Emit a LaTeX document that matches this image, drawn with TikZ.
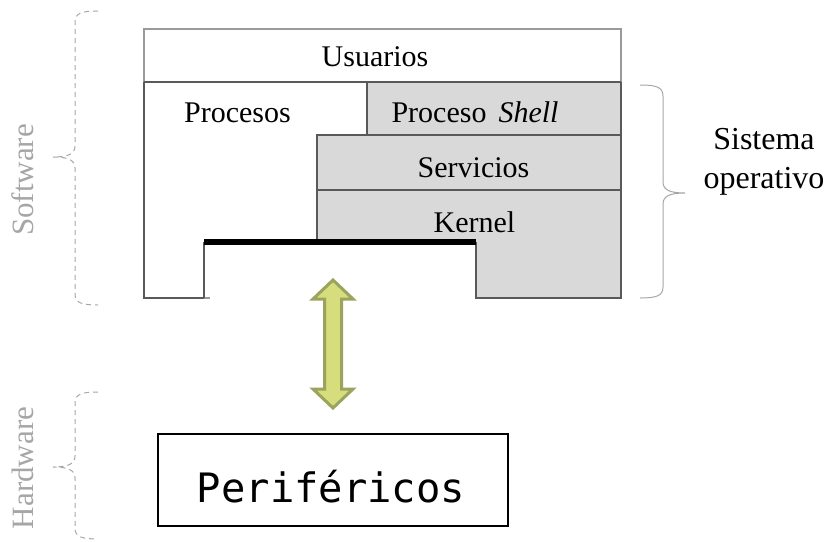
\documentclass[tikz,border=0pt]{standalone}
\usepackage{fontspec}
\usetikzlibrary{calc}
\setmainfont{Liberation Serif}
\newfontfamily\monofam{DejaVu Sans Mono}
\definecolor{layergray}{HTML}{D9D9D9}
\definecolor{edgegray}{HTML}{595959}
\definecolor{lightedge}{HTML}{9A9A9A}
\definecolor{bracegray}{HTML}{A6A6A6}
\definecolor{arrowfill}{HTML}{D6DD7C}
\definecolor{arrowedge}{HTML}{9CA35C}
\tikzset{
  layertext/.style={font=\fontsize{30}{36}\selectfont, inner sep=0pt, anchor=base},
  sidetext/.style={font=\fontsize{31}{36}\selectfont, text=bracegray, inner sep=0pt, anchor=base, rotate=90},
  edge/.style={draw=edgegray, line width=1.2pt},
  dashbrace/.style={draw=bracegray, line width=1pt, dash pattern=on 5pt off 4pt},
  solidbrace/.style={draw=bracegray, line width=1pt},
  devicebox/.style={draw=black, line width=2.7pt, minimum width=350pt, minimum height=92pt, inner sep=0pt},
  devicetext/.style={font=\monofam\fontsize{40.5}{48}\selectfont, inner sep=0pt, anchor=base},
  bus/.style={draw=black, line width=5.5pt}
}
\begin{document}
\begin{tikzpicture}[x=1pt, y=-1pt]
\useasboundingbox (0,0) rectangle (832,541);

% gray operating-system layers
\fill[layergray] (367,82) -- (621,82) -- (621,298) -- (476,298) -- (476,242)
  -- (317,242) -- (317,135) -- (367,135) -- cycle;

% user layer
\draw[draw=lightedge, line width=1.2pt] (144,82) -- (144,29) -- (621,29) -- (621,82);
\draw[edge] (144,82) -- (621,82);

% outline of the lower block
\draw[edge] (144,82) -- (144,298) -- (204,298);
\draw[draw=lightedge, line width=1.2pt] (204,298) -- (210,298);
\draw[edge] (204,298) -- (204,242);
\draw[edge] (476,242) -- (476,298) -- (621,298) -- (621,82);

% separators between layers
\draw[edge] (367,82) -- (367,135);
\draw[edge] (317,242) -- (317,135) -- (621,135);
\draw[edge] (317,190) -- (621,190);

% hardware interface line
\coordinate (busL) at (204,242);
\coordinate (busR) at (476,242);
\draw[bus] (busL) -- (busR);

% layer labels
\node[layertext] (usuarios) at (375,66) {Usuarios};
\node[layertext] (procesos) at (237.5,122) {Procesos};
\node[layertext] (shell) at (475,122) {Proceso\hspace{12pt}\textit{Shell}};
\node[layertext] (servicios) at (473.5,177) {Servicios};
\node[layertext] (kernel) at (474.5,232) {Kernel};

% devices
\node[devicebox] (perif) at (333,480) {};
\node[devicetext] (perifname) at ($(perif.center)+(-2,22)$) {Periféricos};

% two-way arrow between kernel and devices
\coordinate (atop) at (333,280);
\coordinate (abot) at (333,408);
\draw[fill=arrowfill, draw=arrowedge, line width=3pt, line join=miter]
  (atop) -- ++(20,19) -- ++(-11.5,0) -- ($(abot)+(8.5,-19)$) -- ++(11.5,0)
  -- (abot) -- ++(-20,-19) -- ++(11.5,0) -- ($(atop)+(-8.5,19)$) -- ++(-11.5,0) -- cycle;

% operating system brace
\draw[solidbrace] (640,85) .. controls (656,85) and (663,87) .. (663,96) -- (663,182)
  .. controls (663,190) and (670,193) .. (685,193)
  .. controls (670,193) and (663,196) .. (663,204) -- (663,287)
  .. controls (663,296) and (656,298) .. (640,298);
\node[font=\fontsize{32}{39}\selectfont, align=center, inner sep=0pt, anchor=base] (so) at (764,188)
  {Sistema\\operativo};

% software brace
\draw[dashbrace] (98,11) .. controls (82,11) and (75,13) .. (75,22) -- (75,146)
  .. controls (75,154) and (68,157) .. (53,157)
  .. controls (68,157) and (75,160) .. (75,168) -- (75,294)
  .. controls (75,303) and (82,305) .. (98,305);
\node[sidetext] (sw) at (33,180) {Software};

% hardware brace
\draw[dashbrace] (98,392) .. controls (82,392) and (75,394) .. (75,403) -- (75,456)
  .. controls (75,464) and (68,467) .. (53,467)
  .. controls (68,467) and (75,470) .. (75,478) -- (75,528)
  .. controls (75,537) and (82,539) .. (98,539);
\node[sidetext] (hw) at (33,468) {Hardware};
\end{tikzpicture}
\end{document}
